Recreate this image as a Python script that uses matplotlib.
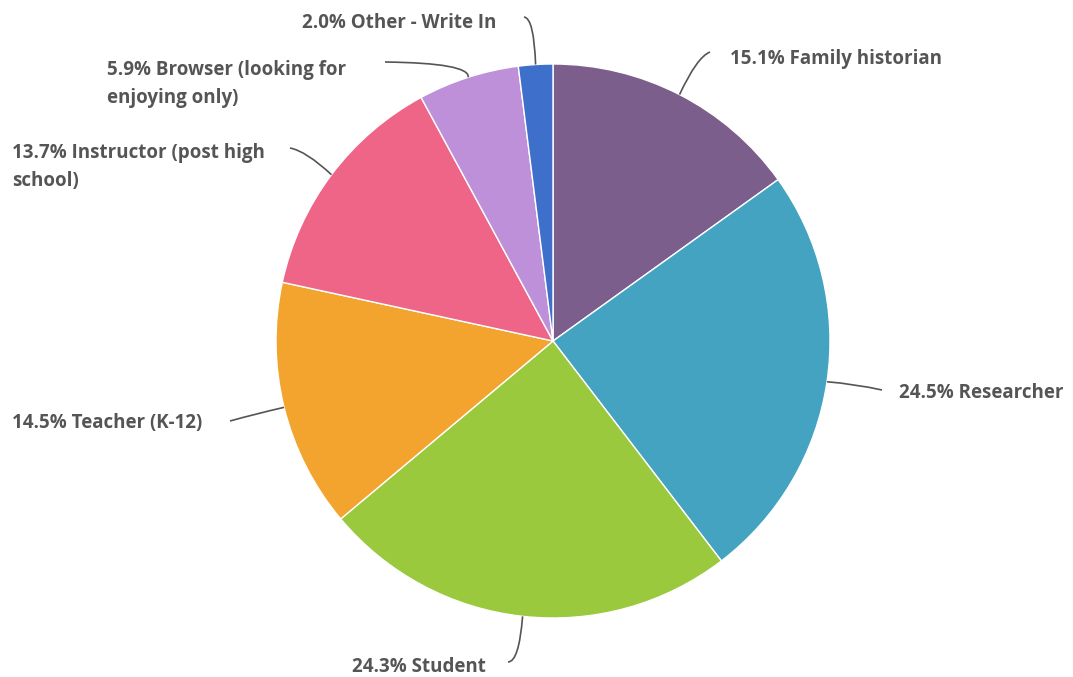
import numpy as np
import matplotlib.pyplot as plt
from matplotlib.path import Path
from matplotlib.patches import PathPatch

# survey answers, clockwise from 12 o'clock
labels = ["Family historian", "Researcher", "Student", "Teacher (K-12)",
          "Instructor (post high\nschool)", "Browser (looking for\nenjoying only)",
          "Other - Write In"]
shares = [15.1, 24.5, 24.3, 14.5, 13.7, 5.9, 2.0]
colors = ["#7B5E8B", "#45A3C2", "#9AC93D", "#F2A42F", "#EE6587", "#BE90DA", "#3D6FCB"]

W, H = 1073, 677
cx, cy, r = 553, 341, 277  # pixel coords, y from top

# label placement (left x, center y) and leader-line bend/end points, pixels from top-left
label_xy = [(730, 59), (899, 393), (352, 667), (12, 423), (12, 167), (107, 84), (302, 23)]
bend_xy = [(697, 57), (855, 384), (519, 662), (255, 414), (306, 151), (470, 63), (534, 18)]
end_xy = [(710, 52), (882, 390), (508, 662), (230, 421), (290, 148), (385, 62), (524, 17)]

fig = plt.figure(figsize=(W / 100, H / 100), dpi=100)
ax = fig.add_axes([0, 0, 1, 1])

wedges, _ = ax.pie(shares, colors=colors, startangle=90, counterclock=False,
                   center=(cx, H - cy), radius=r,
                   wedgeprops=dict(edgecolor="white", linewidth=1))
ax.set_xlim(0, W)
ax.set_ylim(0, H)
ax.axis("off")

for w, lab, val, (tx, ty), (bx, by), (ex, ey) in zip(wedges, labels, shares, label_xy, bend_xy, end_xy):
    mid = np.deg2rad((w.theta1 + w.theta2) / 2)
    sx = cx + r * np.cos(mid)
    sy = (H - cy) + r * np.sin(mid)
    path = Path([(sx, sy), (bx, H - by), (ex, H - ey)], [Path.MOVETO, Path.CURVE3, Path.CURVE3])
    ax.add_patch(PathPatch(path, fill=False, edgecolor="#555555", linewidth=1.2))
    ax.text(tx, H - ty, f"{val:.1f}% {lab}", ha="left", va="center", fontsize=13.5,
            fontweight="bold", color="#555555", family=["Open Sans", "DejaVu Sans"],
            linespacing=1.5)

plt.savefig("out.png", dpi=100)
